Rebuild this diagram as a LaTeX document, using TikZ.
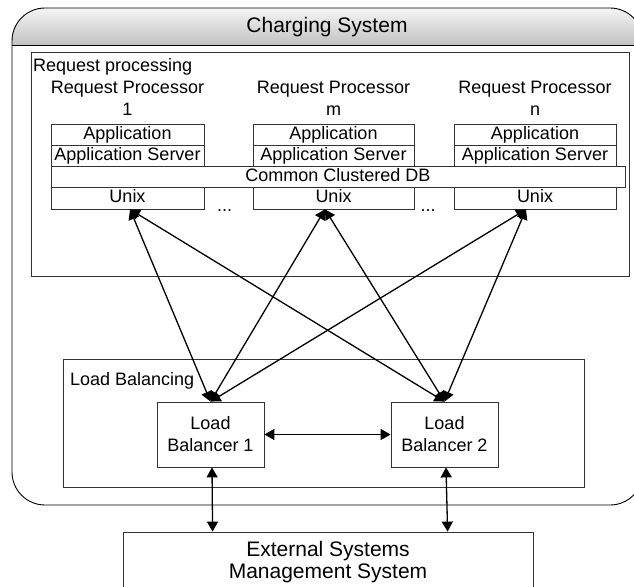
\documentclass[tikz,border=0pt]{standalone}
\usepackage{fontspec}
\setmainfont{Liberation Sans}
\usetikzlibrary{arrows.meta,calc}

\begin{document}
\begin{tikzpicture}[x=1pt,y=-1pt,
  txt/.style={font=\fontsize{18}{22}\selectfont, inner sep=0pt},
  layer/.style={txt, draw=black!80, line width=0.8pt, rectangle,
    minimum height=21.25pt, text height=13pt, text depth=4pt},
  frame/.style={draw=black!80, line width=0.9pt, inner sep=0pt},
  lbbox/.style={txt, draw=black!80, line width=0.8pt, align=center,
    minimum width=107pt, minimum height=65pt},
  link/.style={<->, line width=1.3pt, >={Triangle[length=10pt,width=11pt]}},
]
\useasboundingbox (0,0) rectangle (634,586);
\clip (0,0) rectangle (634,586);

% Charging System: rounded outer frame with shaded title band
\begin{scope}
  \clip[rounded corners=33pt] (12,8) rectangle (643,505);
  \shade[top color=black!4, bottom color=black!24] (12,8) rectangle (643,45);
\end{scope}
\draw[line width=0.9pt, rounded corners=33pt] (12,8) rectangle (643,505);
\draw[line width=0.9pt] (12,45) -- (643,45);
\node[font=\fontsize{21}{24}\selectfont, inner sep=0pt, anchor=base] (title) at (327,33) {Charging System};

% Request processing area
\node[frame, minimum width=598pt, minimum height=224pt] (rp) at (330,164) {};
\node[txt, anchor=base west] (rplabel) at (33,71) {Request processing};

% Processor headings
\node[txt, align=center, anchor=north] (h1) at (127.5,81) {Request Processor\\1};
\node[txt, align=center, anchor=north] (hm) at (333.5,81) {Request Processor\\m};
\node[txt, align=center, anchor=north] (hn) at (535,81) {Request Processor\\n};

% Software stacks
\node[layer, minimum width=153pt] (a1) at (127.5,134.625) {Application};
\node[layer, minimum width=161pt] (am) at (333.5,134.625) {Application};
\node[layer, minimum width=162pt] (an) at (535,134.625) {Application};
\node[layer, minimum width=153pt] (s1) at (127.5,155.875) {Application Server};
\node[layer, minimum width=161pt] (sm) at (333.5,155.875) {Application Server};
\node[layer, minimum width=162pt] (sn) at (535,155.875) {Application Server};
\node[layer, minimum width=574pt] (db) at (338,177.125) {Common Clustered DB};
\node[layer, minimum width=153pt] (u1) at (127.5,198.375) {Unix};
\node[layer, minimum width=161pt] (um) at (333.5,198.375) {Unix};
\node[layer, minimum width=162pt] (un) at (535,198.375) {Unix};
\node[txt, anchor=base] (dots1) at (224.5,211) {...};
\node[txt, anchor=base] (dots2) at (428,211) {...};

% Load balancing area
\node[frame, minimum width=521pt, minimum height=128pt] (lbarea) at (323.5,423) {};
\node[txt, anchor=base west] (lblabel) at (70,385) {Load Balancing};
\node[lbbox] (lb1) at (210.5,434.5) {Load\\Balancer 1};
\node[lbbox] (lb2) at (444.5,434.5) {Load\\Balancer 2};

% External systems
\node[font=\fontsize{21}{22.5}\selectfont, inner sep=0pt, draw=black!80,
      line width=0.8pt, align=center,
      minimum width=410pt, minimum height=60pt] (ext) at (328,562)
      {External Systems\\Management System};

% Connections
\draw[link] (lb1.north) -- ([xshift=2.5pt]u1.south);
\draw[link] (lb1.north) -- ([xshift=-8.5pt]um.south);
\draw[link] (lb1.north) -- ([xshift=-9pt]un.south);
\draw[link] (lb2.north) -- ([xshift=2.5pt]u1.south);
\draw[link] (lb2.north) -- ([xshift=-8.5pt]um.south);
\draw[link] (lb2.north) -- ([xshift=-9pt]un.south);
\draw[link] (lb1.east) -- (lb2.west);
\draw[link] ([xshift=1.5pt]lb1.south) -- ($(ext.north west)+(90,0)$);
\draw[link] ([xshift=1.5pt]lb2.south) -- ($(ext.north west)+(325,0)$);
\end{tikzpicture}
\end{document}
